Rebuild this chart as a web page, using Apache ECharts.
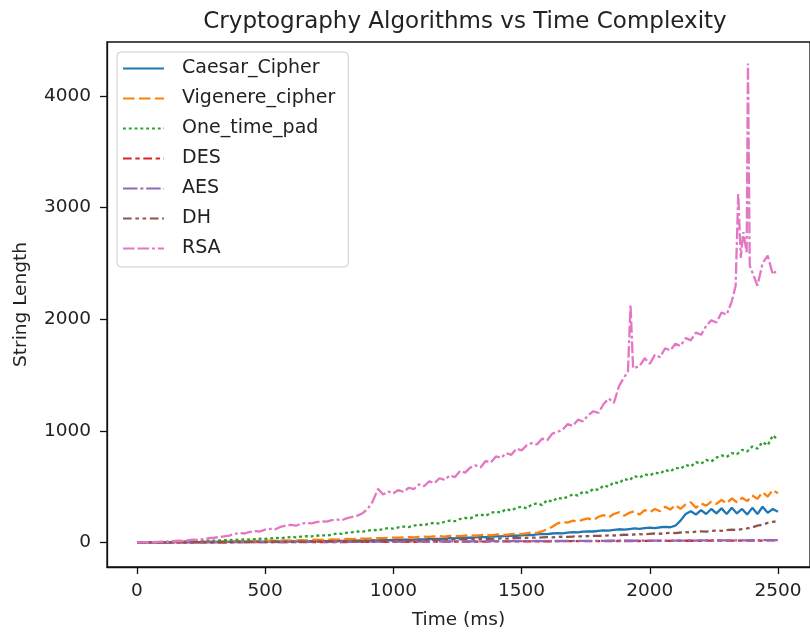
<!DOCTYPE html>
<html>
<head>
<meta charset="utf-8">
<script src="https://cdn.jsdelivr.net/npm/echarts@6/dist/echarts.min.js"></script>
<style>
html,body{margin:0;padding:0;background:#fff;}
#chart{width:810px;height:635px;}
</style>
</head>
<body>
<div id="chart"></div>
<script>
const timeMs = [0,20,40,60,80,100,120,140,160,180,
200,220,240,260,280,300,320,340,360,380,
400,420,440,460,480,500,520,540,560,580,
600,620,640,660,680,700,720,740,760,780,
800,820,840,860,880,900,920,940,960,980,
1000,1020,1040,1060,1080,1100,1120,1140,1160,1180,
1200,1220,1240,1260,1280,1300,1320,1340,1360,1380,
1400,1420,1440,1460,1480,1500,1520,1540,1560,1580,
1600,1620,1640,1660,1680,1700,1720,1740,1760,1780,
1800,1820,1840,1860,1880,1900,1920,1940,1960,1980,
2000,2020,2040,2060,2080,2100,2120,2140,2160,2180,
2200,2220,2240,2260,2280,2300,2320,2340,2360,2380,
2400,2420,2440,2460,2480,2500];

const caesarCipher = [0,0,0,1,1,1,1,2,2,2,
2,3,3,3,3,4,4,4,5,5,
5,6,6,6,7,7,7,8,8,8,
9,9,10,10,11,11,12,12,13,13,
14,15,15,16,17,18,18,19,20,21,
22,23,24,25,26,27,28,30,32,31,
35,38,36,40,44,42,46,50,48,52,
56,54,58,62,60,64,68,66,72,76,
74,80,84,82,88,92,90,96,100,98,
104,108,106,112,118,114,120,126,122,128,
132,128,136,140,136,150,195,255,280,250,
290,255,300,260,305,255,310,260,300,250,
310,255,320,265,300,275];

const vigenereCipher = [0,0,1,1,2,2,3,3,4,4,
5,6,5,7,8,7,9,10,9,11,
12,11,13,14,13,15,16,15,17,18,
17,19,20,19,22,24,22,25,27,26,
29,31,30,33,35,34,37,39,38,41,
44,42,46,48,46,50,52,49,54,56,
53,58,60,57,62,64,60,66,68,64,
70,72,68,75,78,74,82,90,86,100,
118,140,170,185,178,195,188,205,215,200,
230,245,225,255,270,240,265,280,250,290,
270,300,280,320,295,335,300,340,360,310,
350,330,365,345,380,350,395,360,400,370,
420,390,450,410,470,440];

const oneTimePad = [0,1,2,3,2,4,5,6,8,7,
10,12,11,14,16,15,18,20,22,21,
25,28,26,30,33,32,36,40,38,44,
48,46,52,56,54,60,64,62,70,80,
76,88,92,98,96,105,112,108,120,128,
124,135,142,138,150,158,155,170,175,168,
185,195,190,210,220,215,240,250,238,265,
275,268,300,285,310,320,305,340,350,335,
380,365,400,390,410,430,420,455,445,480,
470,510,500,540,530,570,555,595,580,610,
600,625,615,650,635,670,660,695,680,720,
705,740,725,760,780,765,800,790,830,815,
860,840,900,870,960,920];

const des = [0,0,0,0,0,0,0,0,0,1,
1,1,1,1,1,1,1,1,1,2,
2,2,2,2,2,2,2,3,3,3,
3,3,3,3,3,4,4,4,4,4,
4,4,5,5,5,5,5,5,5,6,
6,6,6,6,6,6,7,7,7,7,
7,7,7,8,8,8,8,8,8,9,
9,9,9,9,9,10,10,10,10,10,
10,11,11,11,11,11,11,12,12,12,
12,12,12,13,13,13,13,13,13,14,
14,14,14,14,14,15,15,15,15,15,
15,16,16,16,16,16,16,17,17,17,
17,17,17,18,18,18];

const aes = [0,0,0,0,1,0,1,1,1,1,
1,1,2,1,2,2,2,2,3,2,
3,3,3,3,4,3,4,4,4,4,
5,4,5,5,5,5,6,5,6,6,
6,6,7,6,7,7,7,7,8,7,
8,8,8,8,9,8,9,9,9,9,
10,9,10,10,10,10,11,10,11,11,
11,11,12,11,12,12,12,12,13,12,
13,13,13,13,14,13,14,14,14,14,
15,14,15,15,15,15,16,15,16,16,
16,16,17,16,17,17,17,17,18,17,
18,18,18,18,19,18,19,19,19,19,
20,19,20,20,21,20];

const dh = [0,0,0,0,0,1,1,1,1,1,
1,2,2,2,2,2,3,3,3,3,
4,4,4,5,5,5,6,6,6,7,
7,7,8,8,9,9,10,10,11,11,
12,12,13,13,14,15,15,16,17,17,
18,19,19,20,21,22,22,23,24,25,
26,27,26,28,29,30,29,31,33,32,
34,36,35,37,39,38,41,43,42,45,
47,46,49,51,50,53,55,54,57,59,
58,61,64,62,66,69,67,71,74,72,
77,80,78,83,86,84,89,92,90,96,
99,97,103,107,104,110,115,112,120,126,
135,150,160,175,185,190];

// RSA is sampled a little more finely around its spikes
const rsaTimeMs = [0,20,40,60,80,100,120,140,160,180,
200,220,240,260,280,300,320,340,360,380,
400,420,440,460,480,500,520,540,560,580,
600,620,640,660,680,700,720,740,760,780,
800,820,840,860,880,900,920,940,960,980,
1000,1020,1040,1060,1080,1100,1120,1140,1160,1180,
1200,1220,1240,1260,1280,1300,1320,1340,1360,1380,
1400,1420,1440,1460,1480,1500,1520,1540,1560,1580,
1600,1620,1640,1660,1680,1700,1720,1740,1760,1780,
1800,1820,1840,1860,1880,1900,1915,1925,1935,1960,1980,
2000,2020,2040,2060,2080,2100,2120,2140,2160,2180,
2200,2220,2240,2260,2280,2300,2320,2335,2345,2355,2365,2378,2383,2390,
2400,2420,2440,2460,2480,2500];

const rsa = [0,1,3,2,5,8,7,12,15,13,
20,24,22,30,38,42,48,55,62,75,
84,80,95,102,98,115,122,118,140,150,
158,150,168,175,170,182,190,186,200,205,
200,218,230,240,262,300,370,480,430,455,
440,470,452,490,478,520,505,548,530,575,
560,600,585,640,625,670,690,672,730,715,
770,758,800,785,840,825,870,890,878,930,
915,975,990,1010,1060,1045,1100,1085,1140,1175,
1160,1240,1290,1250,1400,1480,1530,2130,1560,1580,1650,
1600,1680,1660,1740,1720,1780,1760,1830,1810,1880,
1860,1940,1990,1970,2060,2040,2160,2300,3120,2550,2780,2600,4290,2480,
2420,2300,2500,2570,2400,2450];

const seriesNames = ['Caesar_Cipher','Vigenere_cipher','One_time_pad','DES','AES','DH','RSA'];
const seriesValues = [caesarCipher, vigenereCipher, oneTimePad, des, aes, dh, rsa];
const seriesTimes = [timeMs, timeMs, timeMs, timeMs, timeMs, timeMs, rsaTimeMs];
const xTickValues = [0,500,1000,1500,2000,2500];
const yTickValues = [0,1000,2000,3000,4000];

const colors = ['#1f77b4','#ff7f0e','#2ca02c','#d62728','#9467bd','#8c564b','#e377c2'];
const u = 2.9;
const dashes = ['solid',[4*u,1.5*u],[1*u,1*u],[3*u,1.25*u,1.5*u,1.25*u],[5*u,1*u,1*u,1*u],
  [3*u,1.25*u,1.25*u,1.25*u,1.25*u,1.25*u],[4*u,1*u,4*u,1*u,1*u,1*u]];

const chart = echarts.init(document.getElementById('chart'), null, {renderer:'canvas'});
const font = 'DejaVu Sans';
const txt = '#222';
const plain = v => String(v);
const option = {
  animation:false,
  backgroundColor:'#fff',
  title:{text:'Cryptography Algorithms vs Time Complexity', left:460, top:6, textAlign:'center',
    textStyle:{fontFamily:font, fontSize:23, fontWeight:'normal', color:txt}},
  legend:{orient:'vertical', left:117, top:52, itemWidth:41, itemHeight:14, itemGap:11,
    padding:[7,13,9,5], backgroundColor:'rgba(255,255,255,0.8)', borderColor:'#cccccc', borderWidth:1, borderRadius:4,
    itemStyle:{opacity:0},
    textStyle:{fontFamily:font, fontSize:19, color:txt, lineHeight:19, padding:[0,0,0,13]},
    data:seriesNames},
  grid:{left:107, top:42, width:707, height:529, containLabel:false, show:true, borderColor:'#111', borderWidth:1.3, backgroundColor:'transparent'},
  xAxis:{type:'value', min:-117, max:2625, name:'Time (ms)', nameLocation:'middle', nameGap:44,
    nameTextStyle:{fontFamily:font, fontSize:18.5, color:txt},
    axisLine:{onZero:false, lineStyle:{color:'#111', width:1.3}},
    axisTick:{show:true, length:7, lineStyle:{color:'#111', width:1.3}, customValues:xTickValues},
    axisLabel:{fontFamily:font, fontSize:18.5, color:txt, margin:15, formatter:plain, customValues:xTickValues},
    splitLine:{show:false}},
  yAxis:{type:'value', min:-220, max:4483, name:'String Length', nameLocation:'middle', nameGap:76, nameRotate:90,
    nameTextStyle:{fontFamily:font, fontSize:18.5, color:txt},
    axisLine:{show:true, onZero:false, lineStyle:{color:'#111', width:1.3}},
    axisTick:{show:true, length:7, lineStyle:{color:'#111', width:1.3}, customValues:yTickValues},
    axisLabel:{fontFamily:font, fontSize:18.5, color:txt, margin:16, formatter:plain, customValues:yTickValues},
    splitLine:{show:false}},
  series: seriesNames.map((name,k)=>({
    name:name, type:'line', symbol:'none', showSymbol:false,
    color:colors[k],
    lineStyle:{color:colors[k], width:2.3, type:dashes[k], cap:'butt'},
    data: seriesTimes[k].map((t,i)=>[t, seriesValues[k][i]])
  }))
};
chart.setOption(option);
</script>
</body>
</html>
